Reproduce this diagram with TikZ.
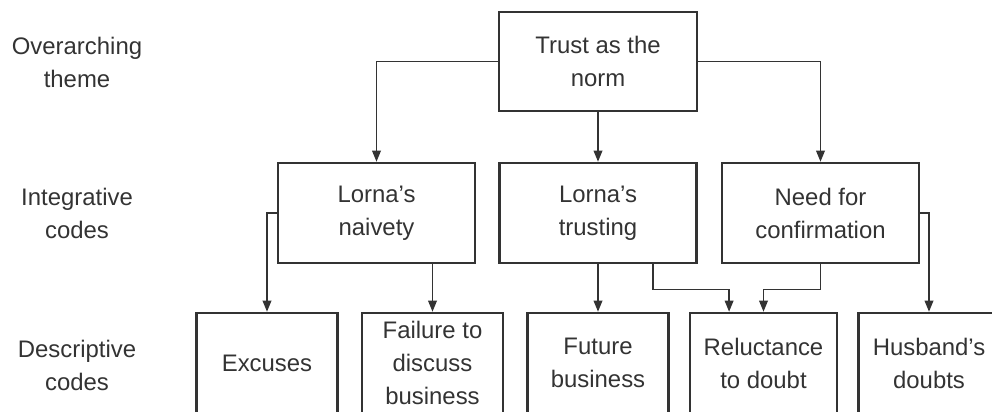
\documentclass[tikz,border=0pt]{standalone}
\usepackage{fontspec}
\setmainfont{Liberation Sans}
\usepackage{tikz}
\usetikzlibrary{positioning,arrows.meta}

\definecolor{inkgray}{HTML}{333333}

\begin{document}
\begin{tikzpicture}[x=0.025cm, y=-0.025cm,
    codebox/.style={draw=inkgray, line width=1.8pt, align=center, inner sep=0pt,
        text=inkgray, font=\fontsize{17}{23.5}\selectfont,
        minimum width=4.925cm, minimum height=2.5cm},
    leafbox/.style={codebox, minimum width=3.525cm},
    rowlabel/.style={align=center, text=inkgray, font=\fontsize{17}{23.5}\selectfont},
    link/.style={draw=inkgray, line width=1pt, -{Triangle[length=0.28cm, width=0.22cm]}}]

    \useasboundingbox (0,0) rectangle (992,412);
    \clip (0,0) rectangle (992,412);

    % Row labels
    \node[rowlabel] (lab1) at (77,62) {Overarching\\theme};
    \node[rowlabel] (lab2) at (77,213) {Integrative\\codes};
    \node[rowlabel] (lab3) at (77,365) {Descriptive\\codes};

    % Overarching theme
    \node[codebox, minimum width=4.95cm, minimum height=2.475cm] (trust) at (598,61.5) {Trust as the\\norm};

    % Integrative codes
    \node[codebox] (naivety) at (376.5,213) {Lorna's\\naivety};
    \node[codebox] (trusting) at (598,213) {Lorna's\\trusting};
    \node[codebox] (confirm) at (820.5,213) {Need for\\confirmation};

    % Descriptive codes
    \node[leafbox] (excuses) at (267,363) {Excuses};
    \node[leafbox] (failure) at (432.5,363) {Failure to\\discuss\\business};
    \node[leafbox] (future) at (598,363) {Future\\business};
    \node[leafbox, minimum width=3.675cm] (reluct) at (763.5,363) {Reluctance\\to doubt};
    \node[leafbox] (husband) at (929,363) {Husband's\\doubts};

    % Theme to integrative codes
    \draw[link] (trust.west) -| (naivety.north);
    \draw[link] (trust.south) -- (trusting.north);
    \draw[link] (trust.east) -| (confirm.north);

    % Integrative to descriptive codes
    \draw[link] (naivety.west) -| (excuses.north);
    \draw[link] (naivety.south -| failure.north) -- (failure.north);
    \draw[link] (trusting.south) -- (future.north);
    \draw[link] ([xshift=1.375cm]trusting.south) -- ++(0,25) -| ([xshift=-0.86cm]reluct.north);
    \draw[link] (confirm.south) -- ++(0,25) -| (reluct.north);
    \draw[link] (confirm.east) -| (husband.north);

\end{tikzpicture}
\end{document}
